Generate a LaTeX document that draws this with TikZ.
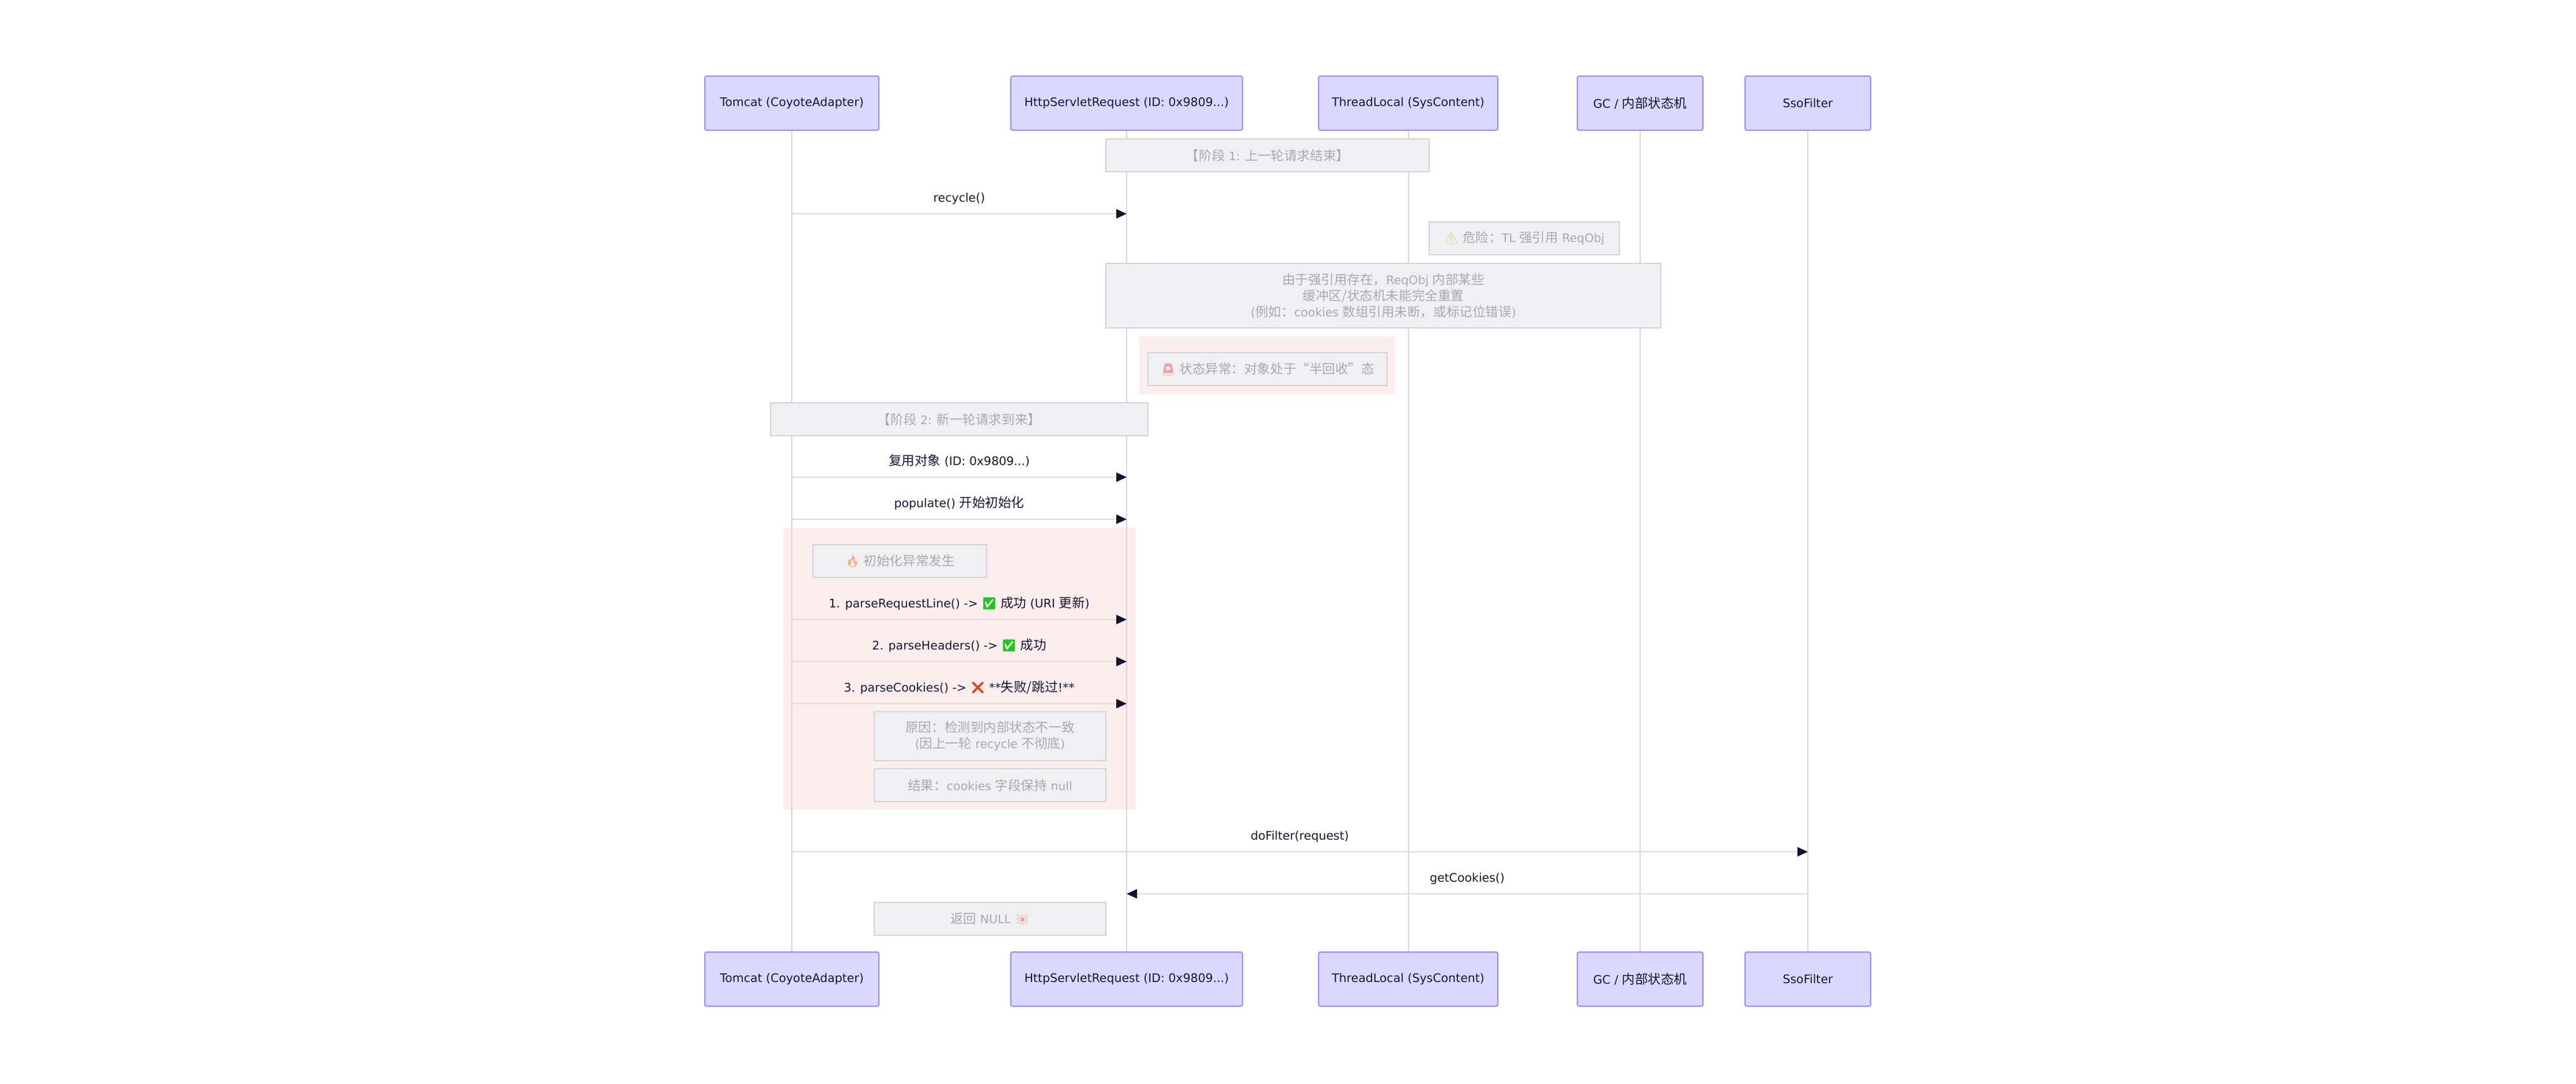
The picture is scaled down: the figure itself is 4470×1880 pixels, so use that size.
\documentclass[tikz,border=0pt]{standalone}
\usepackage{fontspec}
\setmainfont{DejaVu Sans}
\newfontfamily\cjkf[Scale=1.1]{Noto Sans CJK SC}
\newfontfamily\emof[Scale=1.0]{Noto Emoji}
\newcommand\zh[1]{{\cjkf #1}}
\newcommand\emj[2]{{\emof\color{#1}#2}}
\usetikzlibrary{arrows.meta}
\definecolor{actfill}{RGB}{220,215,255}
\definecolor{actdraw}{RGB}{150,140,248}
\definecolor{lifec}{RGB}{214,214,214}
\definecolor{msgline}{RGB}{220,220,220}
\definecolor{headc}{RGB}{19,19,48}
\definecolor{txt}{RGB}{22,22,52}
\definecolor{notefill}{RGB}{240,240,243}
\definecolor{notedraw}{RGB}{210,210,216}
\definecolor{notetxt}{RGB}{168,168,178}
\definecolor{redbg}{RGB}{253,238,238}
\definecolor{emwarn}{RGB}{222,210,120}
\definecolor{emsiren}{RGB}{236,150,150}
\definecolor{emfire}{RGB}{244,176,120}
\definecolor{emboom}{RGB}{240,160,140}
\definecolor{emok}{RGB}{30,200,30}
\definecolor{emno}{RGB}{228,64,30}
\tikzset{
  every node/.style={font=\fontsize{20.5}{28}\selectfont},
  actor/.style={draw=actdraw, fill=actfill, line width=2pt, rounded corners=3pt,
    minimum height=94pt, inner sep=0pt, text=txt},
  life/.style={draw=lifec, line width=2pt},
  msg/.style={draw=msgline, line width=2pt, -{Triangle[length=18pt,width=16pt,color=headc]}},
  lbl/.style={anchor=base, text=txt, inner sep=0pt},
  note/.style={draw=notedraw, fill=notefill, line width=2pt, inner sep=0pt, text=notetxt, align=center},
  redzone/.style={fill=redbg, draw=none},
}
\begin{document}
\begin{tikzpicture}[x=1pt, y=-1pt]
\useasboundingbox (0,0) rectangle (4470,1880);
\fill[white] (0,0) rectangle (4470,1880);
% highlighted regions
\fill[redzone] (1977,584) rectangle (2421,684);
\fill[redzone] (1359,916) rectangle (1971,1405);
% participants
\node[actor, minimum width=302pt] (tA) at (1374,179) {Tomcat (CoyoteAdapter)};
\node[actor, minimum width=402pt] (tH) at (1955,179) {HttpServletRequest (ID: 0x9809...)};
\node[actor, minimum width=311pt] (tT) at (2443.5,179) {ThreadLocal (SysContent)};
\node[actor, minimum width=218pt] (tG) at (2846,179) {GC / \zh{内部状态机}};
\node[actor, minimum width=218pt] (tS) at (3137,179) {SsoFilter};
\node[actor, minimum width=302pt] (bA) at (1374,1699) {Tomcat (CoyoteAdapter)};
\node[actor, minimum width=402pt] (bH) at (1955,1699) {HttpServletRequest (ID: 0x9809...)};
\node[actor, minimum width=311pt] (bT) at (2443.5,1699) {ThreadLocal (SysContent)};
\node[actor, minimum width=218pt] (bG) at (2846,1699) {GC / \zh{内部状态机}};
\node[actor, minimum width=218pt] (bS) at (3137,1699) {SsoFilter};
% lifelines
\draw[life] (tA.south) -- (bA.north);
\draw[life] (tH.south) -- (bH.north);
\draw[life] (tT.south) -- (bT.north);
\draw[life] (tG.south) -- (bG.north);
\draw[life] (tS.south) -- (bS.north);
% notes
\node[note, minimum width=561pt, minimum height=57pt] (n1) at (2199.5,269.5) {\zh{【阶段} 1: \zh{上一轮请求结束】}};
\node[note, minimum width=330pt, minimum height=57pt] (n2) at (2645,413.5) {\emj{emwarn}{⚠} \zh{危险：}TL \zh{强引用} ReqObj};
\node[note, minimum width=963pt, minimum height=112pt] (n3) at (2400.5,513) {\zh{由于强引用存在，}ReqObj \zh{内部某些}\\\zh{缓冲区/状态机未能完全重置}\\(\zh{例如：}cookies \zh{数组引用未断，或标记位错误})};
\node[note, minimum width=415pt, minimum height=57pt] (n4) at (2199.5,640.5) {\emj{emsiren}{🚨} \zh{状态异常：对象处于“半回收”态}};
\node[note, minimum width=655pt, minimum height=57pt] (n5) at (1664.5,727.5) {\zh{【阶段} 2: \zh{新一轮请求到来】}};
\node[note, minimum width=301pt, minimum height=57pt] (n6) at (1561.5,973.5) {\emj{emfire}{🔥} \zh{初始化异常发生}};
\node[note, minimum width=402pt, minimum height=85pt] (n7) at (1718,1277.5) {\zh{原因：检测到内部状态不一致}\\(\zh{因上一轮} recycle \zh{不彻底})};
\node[note, minimum width=402pt, minimum height=57pt] (n8) at (1718,1362.5) {\zh{结果：}cookies \zh{字段保持} null};
\node[note, minimum width=402pt, minimum height=57pt] (n9) at (1718,1594.5) {\zh{返回} NULL \emj{emboom}{💥}};
% messages
\draw[msg] (tA |- 0,371) -- (tH |- 0,371);
\node[lbl] (l1) at (1664.5,350) {recycle()};
\draw[msg] (tA |- 0,828) -- (tH |- 0,828);
\node[lbl] (l2) at (1664.5,807) {\zh{复用对象} (ID: 0x9809...)};
\draw[msg] (tA |- 0,901) -- (tH |- 0,901);
\node[lbl] (l3) at (1664.5,880) {populate() \zh{开始初始化}};
\draw[msg] (tA |- 0,1075) -- (tH |- 0,1075);
\node[lbl] (l4) at (1664.5,1054) {1. parseRequestLine() -> \emj{emok}{✅} \zh{成功} (URI \zh{更新})};
\draw[msg] (tA |- 0,1148) -- (tH |- 0,1148);
\node[lbl] (l5) at (1664.5,1127) {2. parseHeaders() -> \emj{emok}{✅} \zh{成功}};
\draw[msg] (tA |- 0,1221) -- (tH |- 0,1221);
\node[lbl] (l6) at (1664.5,1200) {3. parseCookies() -> \emj{emno}{❌} **\zh{失败/跳过}!**};
\draw[msg] (tA |- 0,1478) -- (tS |- 0,1478);
\node[lbl] (l7) at (2255.5,1457) {doFilter(request)};
\draw[msg] (tS |- 0,1551) -- (tH |- 0,1551);
\node[lbl] (l8) at (2546,1530) {getCookies()};
\end{tikzpicture}
\end{document}
